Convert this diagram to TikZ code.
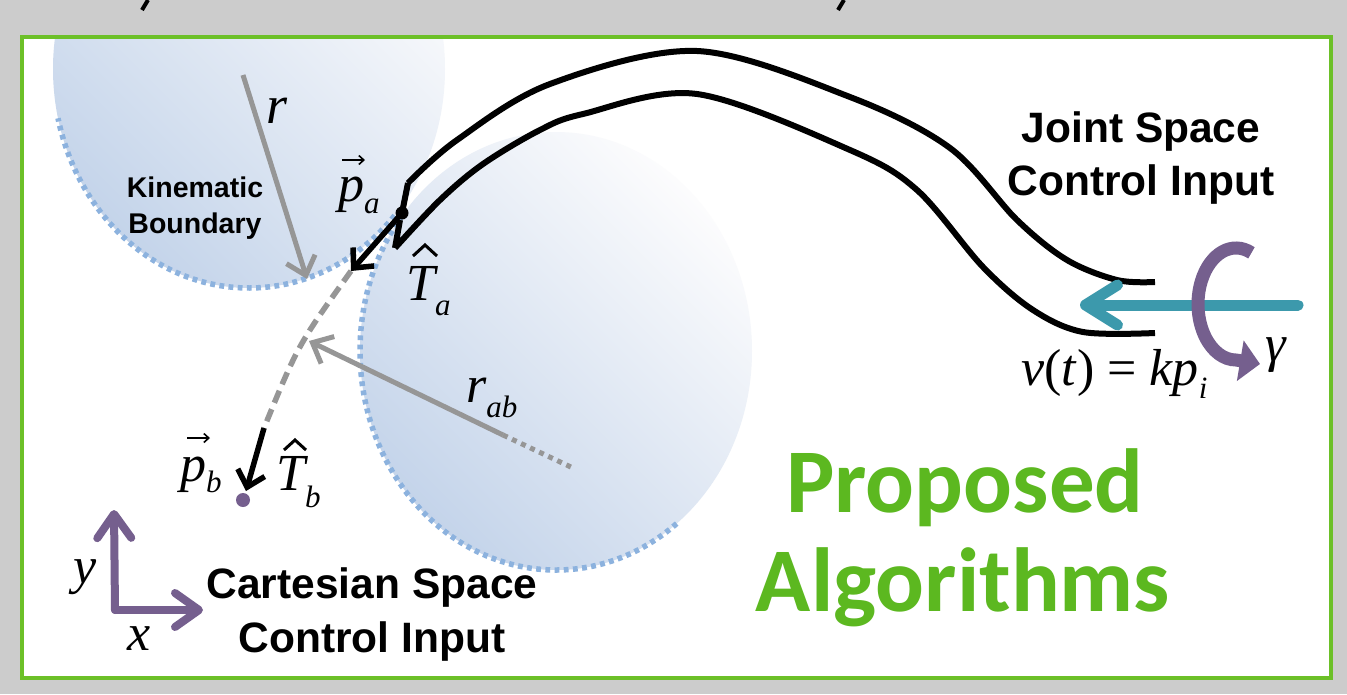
\documentclass[tikz,border=0pt]{standalone}
\usepackage{fontspec}
\setmainfont{Liberation Serif}
\newfontfamily\hvfnt{Liberation Sans}
\newfontfamily\calfnt{Carlito}
\usetikzlibrary{arrows.meta}
\definecolor{bggray}{RGB}{204,204,204}
\definecolor{frgreen}{RGB}{108,192,40}
\definecolor{txgreen}{RGB}{92,184,32}
\definecolor{cblue}{RGB}{196,212,234}
\definecolor{cwhite}{RGB}{252,252,253}
\definecolor{dotblue}{RGB}{140,178,222}
\definecolor{agray}{RGB}{150,150,150}
\definecolor{tealc}{RGB}{60,153,172}
\definecolor{purp}{RGB}{117,95,142}
\newcommand\mth{\fontsize{52}{52}\selectfont\itshape}
\newcommand\sbs[2]{\raisebox{-#1pt}{\fontsize{31}{31}\selectfont\itshape #2}}
\tikzset{
  lab/.style={inner sep=0pt, anchor=base west, font=\mth},
  sanslab/.style={inner sep=0pt, anchor=base, font={\hvfnt\bfseries\fontsize{42.5}{50}\selectfont}},
  kinlab/.style={inner sep=0pt, anchor=base, font={\hvfnt\bfseries\fontsize{28.5}{34}\selectfont}},
  greenlab/.style={inner sep=0pt, anchor=base, text=txgreen, font={\calfnt\bfseries\fontsize{91}{100}\selectfont}},
  boundary/.style={dotblue, line width=5.5pt, dash pattern=on 4.8pt off 4.4pt},
  grayarrow/.style={agray, line width=5pt, -{Straight Barb[length=17pt,width=30pt]}},
  blackarrow/.style={black, line width=5.5pt, -{Straight Barb[length=15pt,width=28pt]}},
  tube/.style={black, line width=6pt, line join=round},
  axisarrow/.style={purp, line width=8pt, line cap=round, -{Straight Barb[length=24pt,width=34pt,round]}},
  vecacc/.style={black, line width=1.6pt, -{Straight Barb[length=5pt,width=9pt]}},
  hatacc/.style={black, line width=3pt, line join=miter},
}
\begin{document}
\begin{tikzpicture}[x=1pt,y=-1pt]
\useasboundingbox (0,0) rectangle (1347,694);
\fill[bggray] (0,0) rectangle (1347,694);
% title fragments cut off at the top
\draw[black, line width=4pt] (148,0) -- (142,10);
\draw[black, line width=4pt] (844,0) -- (838,10);
% frame
\fill[white] (22,37) rectangle (1331,678);
\begin{scope}
\clip (24,39) rectangle (1329,676);
\shade[bottom color=cblue, top color=cwhite, shading angle=-45] (249,69) ellipse [x radius=196, y radius=219];
\shade[bottom color=cblue, top color=cwhite, shading angle=-45] (556,351) ellipse [x radius=196, y radius=219];
\end{scope}
\draw[frgreen, line width=4pt] (22,37) rectangle (1331,678);
% dotted boundaries
\draw[boundary] (249,69) ++(42:196 and 219) arc[start angle=42, end angle=167, x radius=196, y radius=219];
\draw[boundary] (556,351) ++(52:196 and 219) arc[start angle=52, end angle=218, x radius=196, y radius=219];
% coordinates
\coordinate (rS) at (243,75);
\coordinate (rE) at (307,279);
\coordinate (rabC) at (573,468);
\coordinate (rabS) at (503,435);
\coordinate (rabE) at (309,341);
\coordinate (pa) at (402,213);
\coordinate (taTip) at (351,271);
\coordinate (trajE) at (264,428);
\coordinate (pb) at (243,500);
\coordinate (tbTip) at (246,491);
% radius arrows
\draw[grayarrow] (rS) -- (rE);
\draw[agray, line width=5pt, dash pattern=on 5pt off 5pt] (rabS) -- (rabC);
\draw[grayarrow] (rabS) -- (rabE);
% dashed trajectory
\draw[agray, line width=5.5pt, dash pattern=on 13pt off 7pt] (taTip) .. controls (298,345) .. (trajE);
\draw[blackarrow] (trajE) -- (tbTip);
% tube (joint space continuum)
\draw[tube] (pa) -- (408,183) plot[smooth, tension=0.55] coordinates {(408,183) (457,140) (550,84) (697,51) (850,97) (950,148) (1017,220) (1067,260) (1117,280) (1155,282)};
\draw[tube] (400,220) -- (395,248) plot[smooth, tension=0.55] coordinates {(395,248) (440,200) (483,164) (540,130) (583,114) (697,94) (850,150) (917,190) (983,267) (1033,310) (1083,332) (1155,333)};
\draw[blackarrow] (pa) -- (taTip);
\fill[black] (pa) circle (6.5pt);
\fill[purp] (pb) circle (7pt);
% joint space input arrows
\coordinate (tlS) at (1298,305);
\coordinate (tlE) at (1080,305);
\draw[tealc, line width=11pt, line cap=round, -{Straight Barb[length=32pt,width=40pt,round]}] (tlS) -- (tlE);
\draw[purp, line width=13pt, -{Triangle[length=20pt,width=40pt]}] (1236,304) ++(-66:38 and 56) arc[start angle=-66, end angle=-270, x radius=38, y radius=56] -- (1260,364);
% axes
\coordinate (org) at (115,610);
\coordinate (yT) at (114,510);
\coordinate (xT) at (203,610);
\draw[axisarrow] (org) -- (yT);
\draw[axisarrow] (org) -- (xT);
% labels
\node[kinlab] (kin1) at (195,197) {Kinematic};
\node[kinlab] (kin2) at (195,233) {Boundary};
\node[sanslab] (js1) at (1141,142) {Joint Space};
\node[sanslab] (js2) at (1141,195) {Control Input};
\node[sanslab] (cs1) at (372,598) {Cartesian Space};
\node[sanslab] (cs2) at (372,652) {Control Input};
\node[greenlab] (pr1) at (965,512) {Proposed};
\node[greenlab] (pr2) at (963,611) {Algorithms};
\node[lab, font={\fontsize{54}{54}\selectfont\itshape}] (rl) at (266,123) {r};
\node[lab] (pal) at (338,201) {p\sbs{12}{a}};
\node[lab] (tal) at (406,300) {T\sbs{15}{a}};
\node[lab] (rabl) at (466,402) {r\sbs{15}{ab}};
\node[lab] (pbl) at (180,481) {p\sbs{11}{b}};
\node[lab] (tbl) at (276,490) {T\sbs{17}{b}};
\node[lab] (vl) at (1021,385) {v\/\upshape(\itshape t\/\upshape) = \itshape kp\sbs{13}{i}};
\node[lab] (gl) at (1265,361) {γ};
\node[lab] (yl) at (73,583) {y};
\node[lab] (xl) at (127,650) {x};
% accents
\draw[vecacc] ([shift={(4,-41)}]pal.base west) -- ++(23,0);
\draw[vecacc] ([shift={(7,-43)}]pbl.base west) -- ++(23,0);
\draw[hatacc] ([shift={(7,-44)}]tal.base west) -- ++(12,-11) -- ++(12,11);
\draw[hatacc] ([shift={(8,-40)}]tbl.base west) -- ++(11,-10) -- ++(11,10);
\end{tikzpicture}
\end{document}
